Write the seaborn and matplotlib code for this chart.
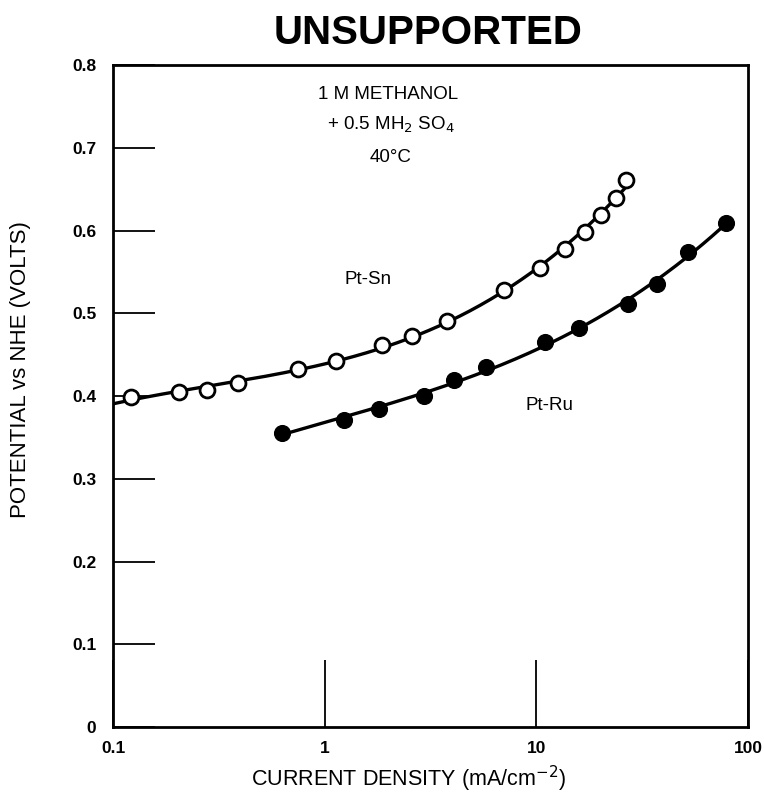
import numpy as np
import pandas as pd
import matplotlib
matplotlib.use("Agg")
import matplotlib.pyplot as plt
import seaborn as sns

# values
sn_current = [0.122, 0.205, 0.279, 0.39, 0.75, 1.13, 1.86, 2.58, 3.78, 7.07, 10.4, 13.7, 17.0, 20.2, 23.9, 26.5]
sn_potential = [0.399, 0.405, 0.407, 0.416, 0.433, 0.442, 0.462, 0.473, 0.491, 0.528, 0.555, 0.578, 0.598, 0.619, 0.639, 0.661]
ru_current = [0.625, 1.23, 1.8, 2.95, 4.1, 5.8, 11.0, 15.9, 27.2, 37.0, 52.0, 78.6]
ru_potential = [0.356, 0.371, 0.385, 0.400, 0.420, 0.435, 0.465, 0.482, 0.511, 0.535, 0.574, 0.609]

sns.set_style("ticks", {"axes.edgecolor": "black", "text.color": "black",
                        "axes.labelcolor": "black", "xtick.color": "black",
                        "ytick.color": "black"})
plt.rcParams['font.family'] = ['Liberation Sans', 'DejaVu Sans']

fig = plt.figure(figsize=(7.64, 7.95), dpi=100)
ax = fig.add_axes([0.148, 0.0855, 0.831, 0.8325])


def smooth(xs, ys, x0, x1, deg=3):
    # smooth curve through the points, in log x
    coef = np.polyfit(np.log10(xs), ys, deg)
    lx = np.linspace(np.log10(x0), np.log10(x1), 200)
    return pd.DataFrame({"x": 10 ** lx, "y": np.polyval(coef, lx)})


sn_fit = smooth(sn_current, sn_potential, 0.1, 27)
ru_fit = smooth(ru_current, ru_potential, 0.62, 82)

sns.lineplot(data=sn_fit, x="x", y="y", color="black", lw=2.4, ax=ax)
sns.lineplot(data=ru_fit, x="x", y="y", color="black", lw=2.4, ax=ax)

sns.scatterplot(x=sn_current, y=sn_potential, s=115, facecolor="white",
                edgecolor="black", linewidth=2, zorder=5, ax=ax)
sns.scatterplot(x=ru_current, y=ru_potential, s=130, color="black",
                edgecolor="black", zorder=5, ax=ax)

ax.set_xscale("log")
ax.set_xlim(0.1, 100)
ax.set_ylim(0, 0.8)

ax.set_yticks([0, 0.1, 0.2, 0.3, 0.4, 0.5, 0.6, 0.7, 0.8])
ax.set_yticklabels(["0", "0.1", "0.2", "0.3", "0.4", "0.5", "0.6", "0.7", "0.8"])
ax.set_xticks([0.1, 1, 10, 100])
ax.set_xticklabels(["0.1", "1", "10", "100"])
ax.minorticks_off()
ax.tick_params(axis="y", direction="in", length=30, width=1.3, labelsize=12.5, pad=12)
ax.tick_params(axis="x", direction="in", length=48, width=1.3, labelsize=12.5, pad=10)
for lab in ax.get_xticklabels() + ax.get_yticklabels():
    lab.set_fontweight("bold")

for sp in ax.spines.values():
    sp.set_linewidth(2)
    sp.set_visible(True)

ax.set_xlabel("CURRENT DENSITY (mA/cm$^{-2}$)", fontsize=15.5)
ax.set_ylabel("POTENTIAL vs NHE (VOLTS)", fontsize=16)
ax.xaxis.set_label_coords(0.465, -0.055)
ax.yaxis.set_label_coords(-0.13, 0.54)
fig.text(0.56, 0.958, "UNSUPPORTED", fontsize=29, fontweight="bold", ha="center", va="center")

ax.text(2.0, 0.765, "1 M METHANOL", fontsize=13.5, ha="center", va="center")
ax.text(2.05, 0.728, "+ 0.5 MH$_2$ SO$_4$", fontsize=13.5, ha="center", va="center")
ax.text(2.05, 0.688, "40°C", fontsize=13.5, ha="center", va="center")
ax.text(1.6, 0.541, "Pt-Sn", fontsize=13.5, ha="center", va="center")
ax.text(11.5, 0.389, "Pt-Ru", fontsize=13.5, ha="center", va="center")

fig.savefig("out.png", dpi=100)
